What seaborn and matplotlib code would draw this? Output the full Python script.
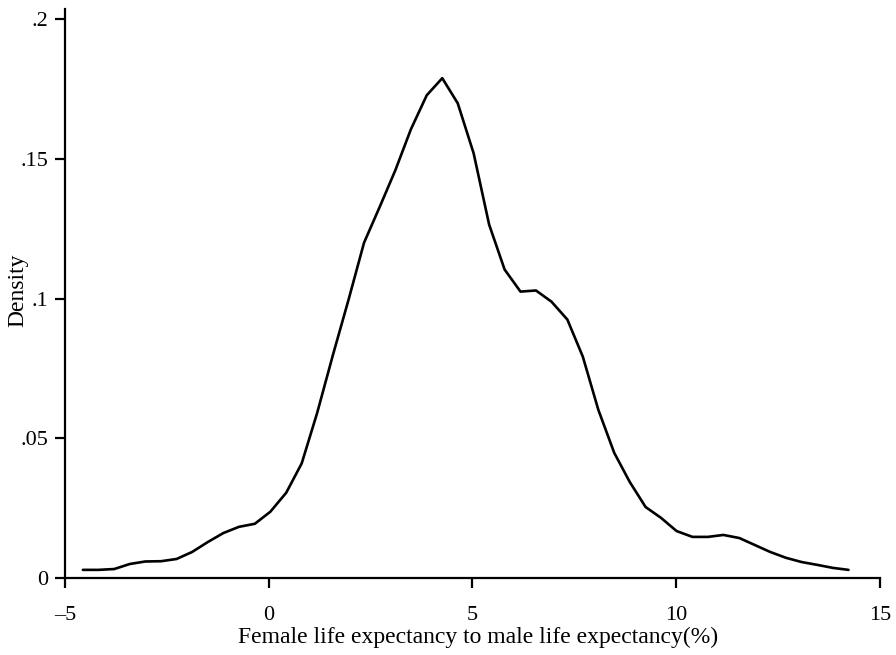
import numpy as np
import pandas as pd
import matplotlib
matplotlib.use("Agg")
import matplotlib.pyplot as plt
import seaborn as sns

# kernel density curve (50 evaluation points)
x_vals = [-4.56, -4.18, -3.79, -3.41, -3.03, -2.64, -2.26, -1.88, -1.49, -1.11,
          -0.73, -0.34, 0.04, 0.43, 0.81, 1.19, 1.58, 1.96, 2.34, 2.73,
          3.11, 3.49, 3.88, 4.26, 4.64, 5.03, 5.41, 5.79, 6.18, 6.56,
          6.94, 7.33, 7.71, 8.09, 8.48, 8.86, 9.25, 9.63, 10.01, 10.40,
          10.78, 11.16, 11.55, 11.93, 12.31, 12.70, 13.08, 13.46, 13.85, 14.23]
density = [0.0029, 0.0029, 0.0032, 0.0050, 0.0059, 0.0060, 0.0068, 0.0093, 0.0129, 0.0161,
           0.0183, 0.0194, 0.0237, 0.0305, 0.0410, 0.0591, 0.0800, 0.0996, 0.1200, 0.1330,
           0.1460, 0.1606, 0.1728, 0.1789, 0.1699, 0.1520, 0.1265, 0.1104, 0.1025, 0.1029,
           0.0989, 0.0925, 0.0792, 0.0602, 0.0448, 0.0344, 0.0254, 0.0215, 0.0168, 0.0147,
           0.0147, 0.0154, 0.0143, 0.0118, 0.0093, 0.0072, 0.0057, 0.0047, 0.0036, 0.0029]

x_ticks = [-5, 0, 5, 10, 15]
x_tick_labels = ["\u20135", "0", "5", "10", "15"]
y_ticks = [0, 0.05, 0.1, 0.15, 0.2]
y_tick_labels = ["0", ".05", ".1", ".15", ".2"]

sns.set_theme(style="ticks")
plt.rcParams['font.family'] = ['Liberation Serif', 'DejaVu Serif']
plt.rcParams['text.color'] = 'black'
plt.rcParams['axes.labelcolor'] = 'black'

df = pd.DataFrame({"x": x_vals, "density": density})

fig = plt.figure(figsize=(8.96, 6.55), dpi=100)
ax = fig.add_axes([0.0725, 0.1176, 0.9095, 0.868])

sns.lineplot(data=df, x="x", y="density", color="black", linewidth=1.9, ax=ax)

ax.set_xlim(-5, 15)
ax.set_ylim(0, 0.2035)
ax.set_xticks(x_ticks)
ax.set_xticklabels(x_tick_labels)
ax.set_yticks(y_ticks)
ax.set_yticklabels(y_tick_labels)

ax.tick_params(axis="both", direction="out", length=7.2, width=1.6, colors="black",
               labelcolor="black", labelsize=16)
ax.tick_params(axis="x", pad=13)
ax.tick_params(axis="y", pad=5)

for side in ["top", "right"]:
    ax.spines[side].set_visible(False)
for side in ["left", "bottom"]:
    ax.spines[side].set_linewidth(1.6)
    ax.spines[side].set_color("black")

ax.set_xlabel("Female life expectancy to male life expectancy(%)", fontsize=17, color="black")
ax.set_ylabel("Density", fontsize=17, color="black")
ax.xaxis.set_label_coords(0.507, -0.105)
ax.yaxis.set_label_coords(-0.058, 0.506)
ax.xaxis.label.set_va("center")
ax.yaxis.label.set_va("center")

fig.savefig("out.png", dpi=100, facecolor="white")
